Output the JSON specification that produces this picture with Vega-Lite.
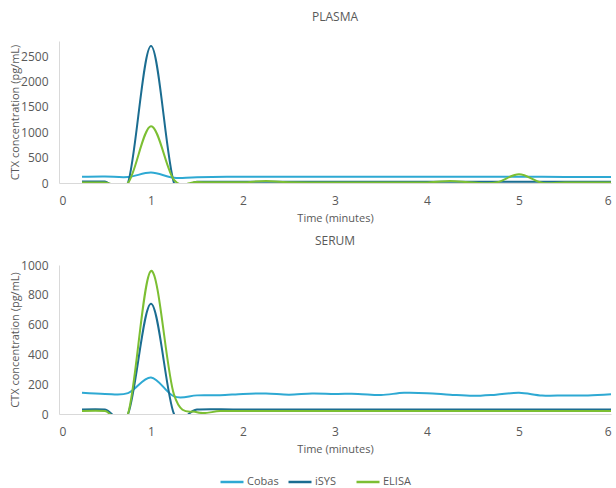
{
  "$schema": "https://vega.github.io/schema/vega-lite/v6.json",
  "padding": {"left": 9, "top": 11, "right": 4, "bottom": 2},
  "background": "white",
  "config": {
    "font": "Open Sans",
    "view": {"stroke": null},
    "title": {"fontSize": 12, "fontWeight": "normal", "color": "#595959", "anchor": "middle", "offset": 17},
    "axis": {"labelFont": "Open Sans", "titleFont": "Open Sans", "labelColor": "#595959", "titleColor": "#595959", "labelFontSize": 12, "titleFontSize": 11, "titleFontWeight": "normal", "grid": false, "ticks": false, "domainColor": "#d9d9d9", "domainWidth": 1},
    "axisX": {"labelPadding": 12, "titlePadding": 6},
    "axisY": {"labelPadding": 11, "titlePadding": 0, "format": "d"},
    "legend": {"labelFont": "Open Sans", "labelFontSize": 11, "labelColor": "#595959"},
    "concat": {"spacing": 12}
  },
  "data": {"values": [
    {"panel": "PLASMA", "series": "Cobas", "t": 0.25, "v": 125},
    {"panel": "PLASMA", "series": "Cobas", "t": 0.5, "v": 130},
    {"panel": "PLASMA", "series": "Cobas", "t": 0.75, "v": 118},
    {"panel": "PLASMA", "series": "Cobas", "t": 1, "v": 205},
    {"panel": "PLASMA", "series": "Cobas", "t": 1.25, "v": 105},
    {"panel": "PLASMA", "series": "Cobas", "t": 1.5, "v": 115},
    {"panel": "PLASMA", "series": "Cobas", "t": 2, "v": 125},
    {"panel": "PLASMA", "series": "Cobas", "t": 2.5, "v": 122},
    {"panel": "PLASMA", "series": "Cobas", "t": 3, "v": 122},
    {"panel": "PLASMA", "series": "Cobas", "t": 3.5, "v": 124},
    {"panel": "PLASMA", "series": "Cobas", "t": 4, "v": 124},
    {"panel": "PLASMA", "series": "Cobas", "t": 4.5, "v": 122},
    {"panel": "PLASMA", "series": "Cobas", "t": 5, "v": 122},
    {"panel": "PLASMA", "series": "Cobas", "t": 5.5, "v": 120},
    {"panel": "PLASMA", "series": "Cobas", "t": 6, "v": 120},
    {"panel": "PLASMA", "series": "iSYS", "t": 0.25, "v": 28},
    {"panel": "PLASMA", "series": "iSYS", "t": 0.5, "v": 28},
    {"panel": "PLASMA", "series": "iSYS", "t": 0.75, "v": 0},
    {"panel": "PLASMA", "series": "iSYS", "t": 1, "v": 2700},
    {"panel": "PLASMA", "series": "iSYS", "t": 1.25, "v": 0},
    {"panel": "PLASMA", "series": "iSYS", "t": 1.5, "v": 25},
    {"panel": "PLASMA", "series": "iSYS", "t": 2, "v": 25},
    {"panel": "PLASMA", "series": "iSYS", "t": 2.5, "v": 25},
    {"panel": "PLASMA", "series": "iSYS", "t": 3, "v": 25},
    {"panel": "PLASMA", "series": "iSYS", "t": 3.5, "v": 25},
    {"panel": "PLASMA", "series": "iSYS", "t": 4, "v": 25},
    {"panel": "PLASMA", "series": "iSYS", "t": 4.5, "v": 25},
    {"panel": "PLASMA", "series": "iSYS", "t": 5, "v": 25},
    {"panel": "PLASMA", "series": "iSYS", "t": 5.5, "v": 25},
    {"panel": "PLASMA", "series": "iSYS", "t": 6, "v": 25},
    {"panel": "PLASMA", "series": "ELISA", "t": 0.25, "v": 10},
    {"panel": "PLASMA", "series": "ELISA", "t": 0.5, "v": 10},
    {"panel": "PLASMA", "series": "ELISA", "t": 0.75, "v": 0},
    {"panel": "PLASMA", "series": "ELISA", "t": 1, "v": 1120},
    {"panel": "PLASMA", "series": "ELISA", "t": 1.25, "v": 60},
    {"panel": "PLASMA", "series": "ELISA", "t": 1.5, "v": 20},
    {"panel": "PLASMA", "series": "ELISA", "t": 1.75, "v": 15},
    {"panel": "PLASMA", "series": "ELISA", "t": 2, "v": 15},
    {"panel": "PLASMA", "series": "ELISA", "t": 2.25, "v": 38},
    {"panel": "PLASMA", "series": "ELISA", "t": 2.5, "v": 15},
    {"panel": "PLASMA", "series": "ELISA", "t": 3, "v": 12},
    {"panel": "PLASMA", "series": "ELISA", "t": 3.5, "v": 12},
    {"panel": "PLASMA", "series": "ELISA", "t": 4, "v": 12},
    {"panel": "PLASMA", "series": "ELISA", "t": 4.25, "v": 38},
    {"panel": "PLASMA", "series": "ELISA", "t": 4.5, "v": 8},
    {"panel": "PLASMA", "series": "ELISA", "t": 4.75, "v": 8},
    {"panel": "PLASMA", "series": "ELISA", "t": 5, "v": 172},
    {"panel": "PLASMA", "series": "ELISA", "t": 5.25, "v": 5},
    {"panel": "PLASMA", "series": "ELISA", "t": 5.5, "v": 8},
    {"panel": "PLASMA", "series": "ELISA", "t": 6, "v": 10},
    {"panel": "SERUM", "series": "Cobas", "t": 0.25, "v": 142},
    {"panel": "SERUM", "series": "Cobas", "t": 0.5, "v": 135},
    {"panel": "SERUM", "series": "Cobas", "t": 0.75, "v": 140},
    {"panel": "SERUM", "series": "Cobas", "t": 1, "v": 245},
    {"panel": "SERUM", "series": "Cobas", "t": 1.25, "v": 118},
    {"panel": "SERUM", "series": "Cobas", "t": 1.5, "v": 125},
    {"panel": "SERUM", "series": "Cobas", "t": 1.75, "v": 126},
    {"panel": "SERUM", "series": "Cobas", "t": 2, "v": 135},
    {"panel": "SERUM", "series": "Cobas", "t": 2.25, "v": 138},
    {"panel": "SERUM", "series": "Cobas", "t": 2.5, "v": 130},
    {"panel": "SERUM", "series": "Cobas", "t": 2.75, "v": 138},
    {"panel": "SERUM", "series": "Cobas", "t": 3, "v": 135},
    {"panel": "SERUM", "series": "Cobas", "t": 3.25, "v": 135},
    {"panel": "SERUM", "series": "Cobas", "t": 3.5, "v": 128},
    {"panel": "SERUM", "series": "Cobas", "t": 3.75, "v": 142},
    {"panel": "SERUM", "series": "Cobas", "t": 4, "v": 140},
    {"panel": "SERUM", "series": "Cobas", "t": 4.25, "v": 130},
    {"panel": "SERUM", "series": "Cobas", "t": 4.5, "v": 122},
    {"panel": "SERUM", "series": "Cobas", "t": 4.75, "v": 130},
    {"panel": "SERUM", "series": "Cobas", "t": 5, "v": 142},
    {"panel": "SERUM", "series": "Cobas", "t": 5.25, "v": 124},
    {"panel": "SERUM", "series": "Cobas", "t": 5.5, "v": 124},
    {"panel": "SERUM", "series": "Cobas", "t": 5.75, "v": 124},
    {"panel": "SERUM", "series": "Cobas", "t": 6, "v": 132},
    {"panel": "SERUM", "series": "iSYS", "t": 0.25, "v": 30},
    {"panel": "SERUM", "series": "iSYS", "t": 0.5, "v": 30},
    {"panel": "SERUM", "series": "iSYS", "t": 0.75, "v": 0},
    {"panel": "SERUM", "series": "iSYS", "t": 1, "v": 740},
    {"panel": "SERUM", "series": "iSYS", "t": 1.25, "v": 0},
    {"panel": "SERUM", "series": "iSYS", "t": 1.5, "v": 30},
    {"panel": "SERUM", "series": "iSYS", "t": 2, "v": 30},
    {"panel": "SERUM", "series": "iSYS", "t": 3, "v": 30},
    {"panel": "SERUM", "series": "iSYS", "t": 4, "v": 30},
    {"panel": "SERUM", "series": "iSYS", "t": 5, "v": 30},
    {"panel": "SERUM", "series": "iSYS", "t": 6, "v": 30},
    {"panel": "SERUM", "series": "ELISA", "t": 0.25, "v": 20},
    {"panel": "SERUM", "series": "ELISA", "t": 0.5, "v": 20},
    {"panel": "SERUM", "series": "ELISA", "t": 0.75, "v": 0},
    {"panel": "SERUM", "series": "ELISA", "t": 1, "v": 960},
    {"panel": "SERUM", "series": "ELISA", "t": 1.25, "v": 130},
    {"panel": "SERUM", "series": "ELISA", "t": 1.5, "v": 12},
    {"panel": "SERUM", "series": "ELISA", "t": 1.75, "v": 20},
    {"panel": "SERUM", "series": "ELISA", "t": 2, "v": 20},
    {"panel": "SERUM", "series": "ELISA", "t": 3, "v": 20},
    {"panel": "SERUM", "series": "ELISA", "t": 4, "v": 20},
    {"panel": "SERUM", "series": "ELISA", "t": 5, "v": 20},
    {"panel": "SERUM", "series": "ELISA", "t": 6, "v": 20}
  ]},
  "vconcat": [
    {
      "title": "PLASMA",
      "width": 552,
      "height": 142,
      "transform": [{"filter": "datum.panel === 'PLASMA'"}],
      "mark": {"type": "line", "interpolate": "cardinal", "tension": 0, "strokeWidth": 2, "clip": true},
      "encoding": {
        "x": {"field": "t", "type": "quantitative", "scale": {"domain": [0, 6]}, "axis": {"values": [0, 1, 2, 3, 4, 5, 6], "title": "Time (minutes)"}},
        "y": {"field": "v", "type": "quantitative", "scale": {"domain": [0, 2800], "nice": false}, "axis": {"values": [0, 500, 1000, 1500, 2000, 2500], "title": "CTX concentration (pg/mL)"}},
        "color": {"field": "series", "type": "nominal", "scale": {"domain": ["Cobas", "iSYS", "ELISA"], "range": ["#2ea9d3", "#1b6d91", "#7cbf33"]}, "legend": {"title": null, "orient": "none", "legendX": 160, "legendY": 428, "direction": "horizontal", "columns": 3, "gridAlign": "all", "symbolType": "stroke", "symbolSize": 529, "symbolStrokeWidth": 2.5, "columnPadding": 4, "labelOffset": 2}}
      }
    },
    {
      "title": {"text": "SERUM", "offset": 11},
      "width": 552,
      "height": 149,
      "transform": [{"filter": "datum.panel === 'SERUM'"}],
      "mark": {"type": "line", "interpolate": "cardinal", "tension": 0, "strokeWidth": 2, "clip": true},
      "encoding": {
        "x": {"field": "t", "type": "quantitative", "scale": {"domain": [0, 6]}, "axis": {"values": [0, 1, 2, 3, 4, 5, 6], "title": "Time (minutes)"}},
        "y": {"field": "v", "type": "quantitative", "scale": {"domain": [0, 1000], "nice": false}, "axis": {"values": [0, 200, 400, 600, 800, 1000], "title": "CTX concentration (pg/mL)"}},
        "color": {"field": "series", "type": "nominal", "scale": {"domain": ["Cobas", "iSYS", "ELISA"], "range": ["#2ea9d3", "#1b6d91", "#7cbf33"]}, "legend": {"title": null, "orient": "none", "legendX": 160, "legendY": 428, "direction": "horizontal", "columns": 3, "gridAlign": "all", "symbolType": "stroke", "symbolSize": 529, "symbolStrokeWidth": 2.5, "columnPadding": 4, "labelOffset": 2}}
      }
    }
  ]
}
